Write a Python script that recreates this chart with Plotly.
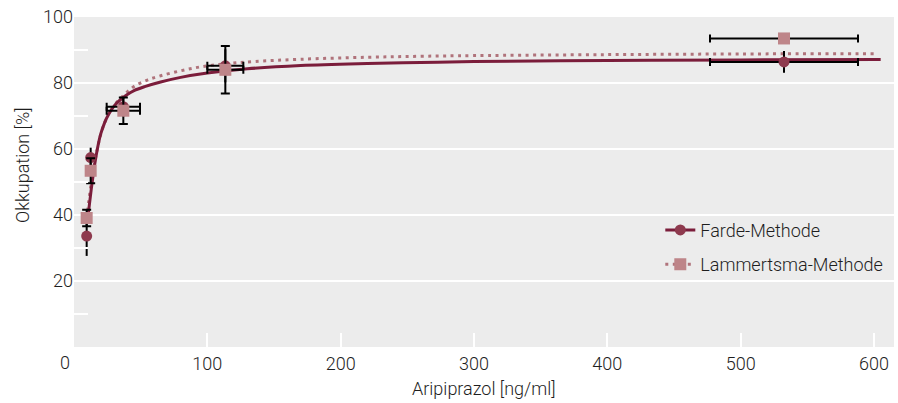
import plotly.graph_objects as go

# ---- data ----
conc = [9.5, 12.5, 37, 113.5, 532.5]
conc_err = [1.0, 1.0, 12.5, 13.5, 55.5]

farde_occ = [33.6, 57.4, 72.8, 85.2, 86.4]
farde_err = [6.0, 3.0, 3.0, 5.0, 3.3]

lamm_occ = [39.1, 53.4, 71.6, 84.0, 93.5]
lamm_err = [2.5, 3.8, 4.0, 7.2, 0.0]

farde_curve_x = [10, 11.5, 13, 14.5, 16, 18, 20, 23, 26, 30, 35, 40, 45, 53, 65, 80, 100, 130, 170, 220, 260, 300, 400, 500, 605]
farde_curve_y = [38, 43, 48, 52.5, 56.5, 61, 64.5, 68, 70.5, 73, 75, 76.5, 77.7, 78.9, 80.3, 81.7, 83.0, 84.3, 85.3, 85.9, 86.2, 86.5, 86.8, 87.0, 87.1]

lamm_curve_x = [9.5, 11, 12.5, 14, 16, 18, 20, 23, 26, 30, 35, 40, 46, 55, 65, 80, 95, 115, 135, 170, 220, 260, 300, 400, 500, 600]
lamm_curve_y = [39, 44, 48.5, 52.5, 57, 61, 64.3, 68, 70.8, 73.2, 75.4, 77.3, 79.2, 80.9, 82.2, 83.7, 84.9, 85.9, 86.5, 87.2, 87.8, 88.1, 88.3, 88.6, 88.8, 88.9]

x_ticks = [100, 200, 300, 400, 500, 600]
y_ticks = [20, 40, 60, 80, 100]

names = ["Farde-Methode", "Lammertsma-Methode"]

# ---- styles ----
FONT = "Roboto, Liberation Sans, sans-serif"
FS = 18
FW = 300
TXT = "#1e1e1e"
C_LINE = "#7b1d3b"
C_CIRC = "#8e3a4e"
C_SQ = "#be8589"
C_DOT = "#b0737b"
BG = "#ececec"


def fnt():
    return dict(family=FONT, size=FS, color=TXT, weight=FW)


fig = go.Figure()

fig.add_trace(go.Scatter(x=lamm_curve_x, y=lamm_curve_y, mode="lines",
                         line=dict(color=C_DOT, width=3, dash="3px,4.5px", shape="spline"),
                         showlegend=False, hoverinfo="skip"))
fig.add_trace(go.Scatter(x=farde_curve_x, y=farde_curve_y, mode="lines",
                         line=dict(color=C_LINE, width=3, shape="spline"),
                         showlegend=False, hoverinfo="skip"))

fig.add_trace(go.Scatter(x=conc, y=farde_occ, mode="markers",
                         marker=dict(symbol="circle", size=11, color=C_CIRC),
                         error_x=dict(type="data", array=conc_err, color="black", thickness=2, width=4),
                         error_y=dict(type="data", array=farde_err, color="black", thickness=2, width=0),
                         showlegend=False))
fig.add_trace(go.Scatter(x=conc, y=lamm_occ, mode="markers",
                         marker=dict(symbol="square", size=12, color=C_SQ),
                         error_x=dict(type="data", array=conc_err, color="black", thickness=2, width=4),
                         error_y=dict(type="data", array=lamm_err, color="black", thickness=2, width=4.5),
                         showlegend=False))

# legend-only entries
fig.add_trace(go.Scatter(x=[None], y=[None], mode="lines+markers", name=names[0],
                         legendgroup="a",
                         line=dict(color=C_LINE, width=3),
                         marker=dict(symbol="circle", size=11, color=C_CIRC)))
fig.add_trace(go.Scatter(x=[None], y=[None], mode="lines+markers", name=names[1],
                         legendgroup="b",
                         line=dict(color=C_DOT, width=3, dash="3px,4.5px"),
                         marker=dict(symbol="square", size=12, color=C_SQ)))

fig.update_layout(
    width=898, height=403, autosize=False,
    margin=dict(l=74, r=4, t=17, b=56),
    paper_bgcolor="white", plot_bgcolor=BG,
    font=fnt(),
    showlegend=True,
    legend=dict(x=0.715, y=0.41, xanchor="left", yanchor="top",
                bgcolor="rgba(0,0,0,0)", traceorder="grouped", tracegroupgap=8,
                font=fnt()),
    xaxis=dict(range=[0, 615], tickvals=x_ticks, ticks="inside", ticklen=14, tickwidth=2,
               tickcolor="white", showgrid=False, zeroline=False, showline=False,
               ticklabelstandoff=4, tickfont=fnt()),
    yaxis=dict(range=[0, 100], tickvals=y_ticks, showgrid=True, gridcolor="white", gridwidth=2,
               zeroline=False, showline=False, ticks="", ticklabeloverflow="allow",
               minor=dict(ticks="inside", ticklen=14, tickwidth=2, tickcolor="white",
                          tickvals=[10, 30, 50, 70, 90], showgrid=False),
               tickfont=fnt()),
    annotations=[
        dict(text="0", x=0, y=0, xref="paper", yref="paper", xanchor="center", yanchor="middle",
             xshift=-9, yshift=-15, showarrow=False, font=fnt()),
        dict(text="Aripiprazol [ng/ml]", x=0.5, y=0, xref="paper", yref="paper",
             xanchor="center", yanchor="middle", yshift=-41, showarrow=False, font=fnt()),
        dict(text="Okkupation [%]", x=0, y=0.5515, xref="paper", yref="paper", textangle=-90,
             xanchor="center", yanchor="middle", xshift=-52, showarrow=False, font=fnt()),
    ],
)

fig.write_html("out.html", config={"displayModeBar": False},
               post_script="document.body.style.margin='0px';")
